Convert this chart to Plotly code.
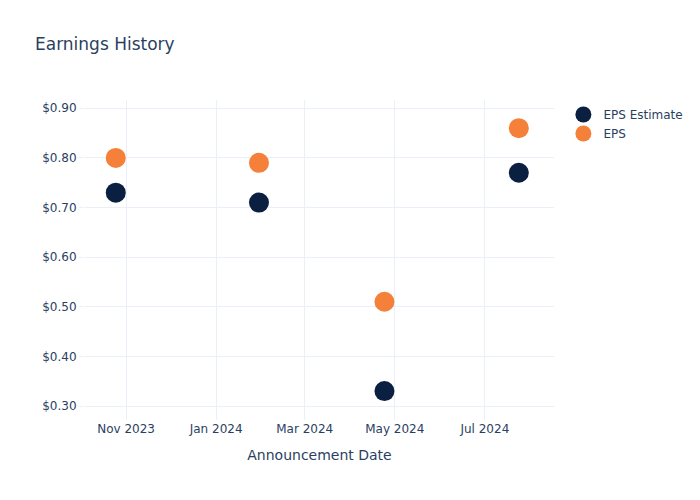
import plotly.graph_objects as go

dates = ["2023-10-25", "2024-01-30", "2024-04-24", "2024-07-24"]
eps_estimate = [0.73, 0.71, 0.33, 0.77]
eps_actual = [0.80, 0.79, 0.51, 0.86]

fig = go.Figure()
fig.add_trace(go.Scatter(x=dates, y=eps_estimate, mode="markers", name="EPS Estimate",
                         marker=dict(color="#0b1f41", size=20)))
fig.add_trace(go.Scatter(x=dates, y=eps_actual, mode="markers", name="EPS",
                         marker=dict(color="#f5803a", size=20)))

fig.update_layout(
    template="plotly_white",
    width=700, height=500,
    margin=dict(l=85, t=100, b=80),
    font=dict(family="DejaVu Sans", color="#2a3f5f"),
    title=dict(text="Earnings History", x=0.05),
    xaxis=dict(title="Announcement Date", dtick="M2", tickformat="%b %Y",
               range=["2023-10-04 04:00", "2024-08-16 20:00"]),
    yaxis=dict(tickprefix="$", tickformat=".2f", ticks="outside", tickcolor="#EBF0F8",
               range=[0.2718, 0.9167]),
)
fig.write_html("out.html")
